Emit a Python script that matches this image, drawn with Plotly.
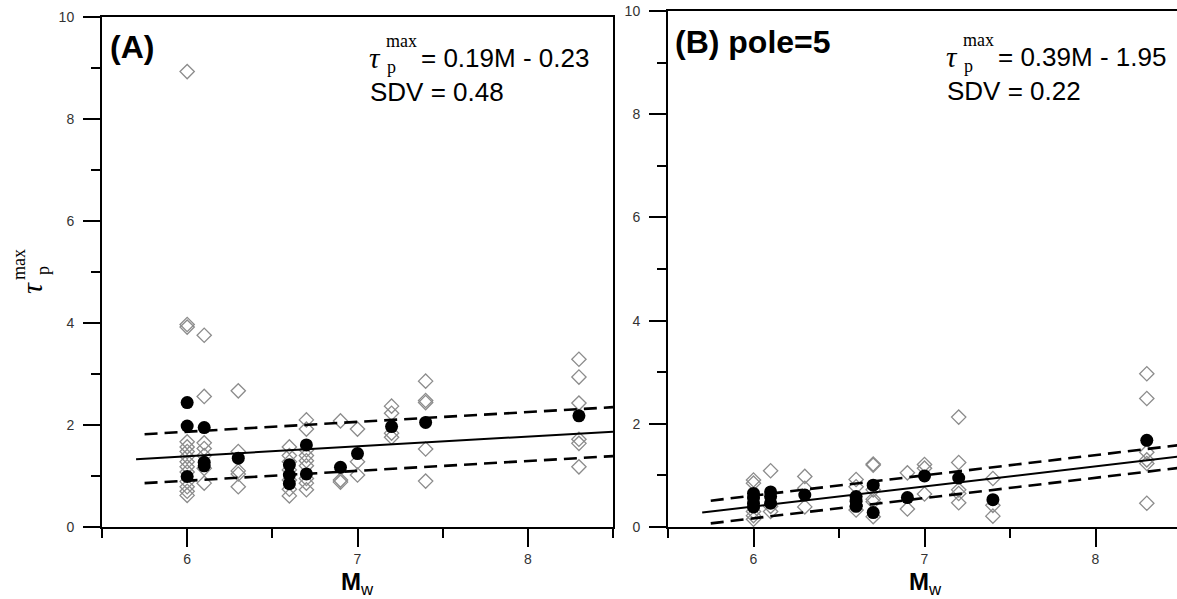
import plotly.graph_objects as go

W, H = 1177, 599

# ---- panel A: all events ----
a_open_mag = [6.0] * 14 + [6.1] * 7 + [6.3] * 5 + [6.6] * 7 + [6.7] * 9 + [6.9] * 3 + [7.0] * 3 + [7.2] * 4 + [7.4] * 5 + [8.3] * 6
a_open_tau = [8.93, 3.97, 3.92, 1.67, 1.57, 1.48, 1.38, 1.28, 1.18, 1.08, 0.89, 0.79, 0.70, 0.62,
              3.76, 2.56, 1.65, 1.54, 1.40, 1.15, 0.86,
              2.67, 1.48, 1.10, 1.04, 0.79,
              1.57, 1.40, 1.28, 1.12, 0.92, 0.74, 0.61,
              2.10, 1.92, 1.51, 1.40, 1.30, 1.20, 0.95, 0.86, 0.73,
              2.08, 0.92, 0.88,
              1.92, 1.28, 1.02,
              2.37, 2.23, 1.84, 1.76,
              2.86, 2.48, 2.44, 1.53, 0.90,
              3.29, 2.94, 2.43, 1.72, 1.64, 1.18]
a_mean_mag = [6.0, 6.0, 6.0, 6.1, 6.1, 6.1, 6.3, 6.6, 6.6, 6.6, 6.7, 6.7, 6.9, 7.0, 7.2, 7.4, 8.3]
a_mean_tau = [2.44, 1.98, 0.99, 1.95, 1.27, 1.20, 1.35, 1.22, 1.02, 0.85, 1.61, 1.04, 1.17, 1.44, 1.97, 2.05, 2.18]
a_fit_mag = [5.7, 8.5]
a_fit_tau = [1.33, 1.87]
a_band_mag = [5.75, 8.5]
a_band_hi = [1.82, 2.35]
a_band_lo = [0.86, 1.39]

# ---- panel B: pole=5 ----
b_open_mag = [6.0] * 5 + [6.1] * 3 + [6.3] * 3 + [6.6] * 3 + [6.7] * 6 + [6.9] * 2 + [7.0] * 3 + [7.2] * 5 + [7.4] * 3 + [8.3] * 6
b_open_tau = [0.91, 0.85, 0.30, 0.22, 0.15,
              1.09, 0.40, 0.30,
              0.98, 0.75, 0.39,
              0.92, 0.78, 0.33,
              1.22, 1.20, 0.72, 0.54, 0.49, 0.20,
              1.05, 0.35,
              1.21, 1.14, 0.64,
              2.13, 1.25, 0.72, 0.65, 0.47,
              0.94, 0.42, 0.21,
              2.97, 2.49, 1.45, 1.30, 1.23, 0.46]
b_mean_mag = [6.0, 6.0, 6.0, 6.0, 6.1, 6.1, 6.1, 6.3, 6.6, 6.6, 6.6, 6.7, 6.7, 6.9, 7.0, 7.2, 7.4, 8.3]
b_mean_tau = [0.65, 0.56, 0.46, 0.39, 0.68, 0.59, 0.46, 0.62, 0.59, 0.50, 0.40, 0.81, 0.28, 0.57, 0.99, 0.95, 0.53, 1.68]
b_fit_mag = [5.7, 8.5]
b_fit_tau = [0.28, 1.37]
b_band_mag = [5.75, 8.5]
b_band_hi = [0.51, 1.59]
b_band_lo = [0.07, 1.15]

ARIAL = "Arial, Liberation Sans, sans-serif"
TIMES = "Times New Roman, Liberation Serif, serif"


def px(x, y):
    return x / W, 1 - y / H


fig = go.Figure()


def add_panel(xa, ya, om, ot, mm, mt, fm, ft, bm, bhi, blo):
    fig.add_trace(go.Scatter(x=om, y=ot, mode="markers", xaxis=xa, yaxis=ya,
                             marker=dict(symbol="diamond-open", size=11, color="#8c8c8c",
                                         line=dict(width=1.3, color="#8c8c8c"))))
    fig.add_trace(go.Scatter(x=fm, y=ft, mode="lines", xaxis=xa, yaxis=ya,
                             line=dict(color="black", width=2)))
    for yy in (bhi, blo):
        fig.add_trace(go.Scatter(x=bm, y=yy, mode="lines", xaxis=xa, yaxis=ya,
                                 line=dict(color="black", width=2.6, dash="13px,7px")))
    fig.add_trace(go.Scatter(x=mm, y=mt, mode="markers", xaxis=xa, yaxis=ya,
                             marker=dict(symbol="circle", size=13, color="black")))


add_panel("x", "y", a_open_mag, a_open_tau, a_mean_mag, a_mean_tau,
          a_fit_mag, a_fit_tau, a_band_mag, a_band_hi, a_band_lo)
add_panel("x2", "y2", b_open_mag, b_open_tau, b_mean_mag, b_mean_tau,
          b_fit_mag, b_fit_tau, b_band_mag, b_band_hi, b_band_lo)

xax = dict(showline=True, linewidth=2, linecolor="black", mirror=True, showgrid=False,
           zeroline=False, automargin=False, ticks="outside", ticklen=18, tickwidth=2,
           tickcolor="black", tickvals=[6, 7, 8], tickfont=dict(family=ARIAL, size=14, color="#333"),
           minor=dict(ticks="outside", ticklen=9, tickwidth=2, tickcolor="black",
                      tickvals=[5.5, 6.5, 7.5, 8.5]))
yax = dict(showline=True, linewidth=2, linecolor="black", mirror=True, showgrid=False,
           zeroline=False, automargin=False, range=[0, 10], ticks="outside", ticklen=17,
           tickwidth=2, tickcolor="black", tickvals=[0, 2, 4, 6, 8, 10], ticklabelstandoff=6,
           tickfont=dict(family=ARIAL, size=14, color="#333"),
           minor=dict(ticks="outside", ticklen=9, tickwidth=2, tickcolor="black",
                      tickvals=[1, 3, 5, 7, 9]))

fig.update_layout(
    template="none",
    width=W, height=H, margin=dict(l=0, r=0, t=0, b=0, pad=0),
    paper_bgcolor="white", plot_bgcolor="white", showlegend=False,
    xaxis=dict(xax, domain=[102 / W, 613 / W], range=[5.5, 8.5], anchor="y"),
    yaxis=dict(yax, domain=[1 - 527 / H, 1 - 17 / H], anchor="x"),
    xaxis2=dict(xax, domain=[668 / W, 1.0], range=[5.5, 5.5 + (W - 668) / 171], anchor="y2"),
    yaxis2=dict(yax, domain=[1 - 527 / H, 1 - 11 / H], anchor="x2"),
)

ann = []


def text(x, y, s, family=ARIAL, size=24, xanchor="left", angle=0, color="black"):
    xp, yp = px(x, y)
    ann.append(dict(x=xp, y=yp, xref="paper", yref="paper", text=s, showarrow=False,
                    xanchor=xanchor, yanchor="middle", textangle=angle,
                    font=dict(family=family, size=size, color=color)))


# panel labels
text(108, 47, "<b>(A)</b>", size=32)
text(673, 42, "<b>(B) pole=5</b>", size=32)

# regression formulas
for x0, y0, eq, sdv in [(367, 58, "= 0.19M - 0.23", "SDV = 0.48"),
                         (944, 57, "= 0.39M - 1.95", "SDV = 0.22")]:
    text(x0, y0, "<i>τ</i>", family=TIMES, size=29)
    text(x0 + 17, y0 - 17, "max", family=TIMES, size=18)
    text(x0 + 18, y0 + 9, "p", family=TIMES, size=18)
    text(x0 + 52, y0, eq, size=26)
    text(x0 + 1, y0 + 34, sdv, size=26)

# y axis title (rotated)
text(31, 288, "<i>τ</i>", family=TIMES, size=30, xanchor="center", angle=-90)
text(19, 265, "max", family=TIMES, size=18, xanchor="center", angle=-90)
text(43, 271, "p", family=TIMES, size=18, xanchor="center", angle=-90)

# x axis titles
for xc in (357, 925):
    text(xc, 583, "<b>M</b><sub>w</sub>", size=24, xanchor="center")

fig.update_layout(annotations=ann)
fig.write_html("out.html", config={"displayModeBar": False},
               post_script="document.body.style.margin='0px';")
